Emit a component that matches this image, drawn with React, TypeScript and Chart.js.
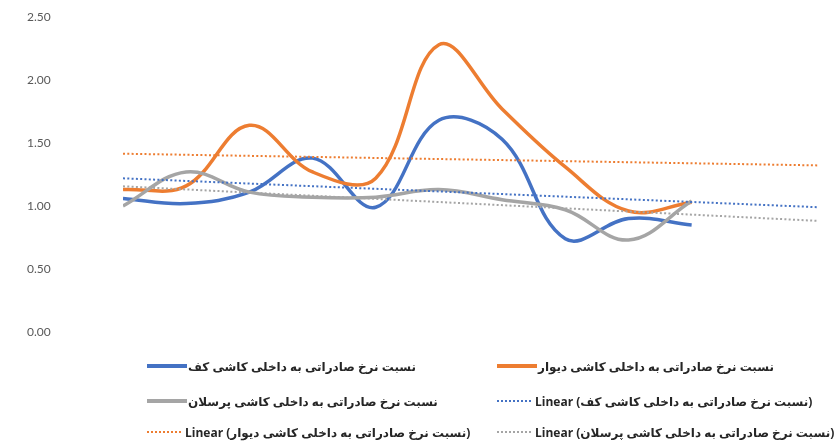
import React, { useEffect, useRef } from "react";
import { Chart, registerables } from "chart.js";

Chart.register(...registerables);

// Export-to-domestic price ratio per period, one array per tile type
const kaf = [1.06, 1.02, 1.11, 1.38, 0.99, 1.68, 1.53, 0.74, 0.9, 0.85];
const divar = [1.13, 1.16, 1.64, 1.27, 1.22, 2.28, 1.77, 1.31, 0.96, 1.03];
const porselan = [1.0, 1.27, 1.11, 1.07, 1.07, 1.13, 1.05, 0.97, 0.73, 1.04];

// Trend lines are projected this many periods past the last value
const forecastPeriods = 2;

// Value axis
const yMin = 0;
const yMax = 2.5;
const yStep = 0.5;

const nameKaf = "نسبت نرخ صادراتی به داخلی کاشی کف";
const nameDivar = "نسبت نرخ صادراتی به داخلی کاشی دیوار";
const namePorselan = "نسبت نرخ صادراتی به داخلی کاشی پرسلان";

const BLUE = "#4472C4";
const ORANGE = "#ED7D31";
const GRAY = "#A5A5A5";

// Least-squares line through the series, extended forward
function linearTrend(values: number[], extra: number) {
  const n = values.length;
  const mx = (n - 1) / 2;
  const my = values.reduce((a, b) => a + b, 0) / n;
  let sxy = 0;
  let sxx = 0;
  values.forEach((v, i) => {
    sxy += (i - mx) * (v - my);
    sxx += (i - mx) * (i - mx);
  });
  const slope = sxy / sxx;
  const intercept = my - slope * mx;
  const last = n - 1 + extra;
  return [
    { x: 0, y: intercept },
    { x: last, y: intercept + slope * last },
  ];
}

const toPoints = (values: number[]) => values.map((y, x) => ({ x, y }));

type LegendItem = { label: string; color: string; dotted: boolean };

const legendRows: LegendItem[][] = [
  [
    { label: nameKaf, color: BLUE, dotted: false },
    { label: nameDivar, color: ORANGE, dotted: false },
  ],
  [
    { label: namePorselan, color: GRAY, dotted: false },
    { label: `Linear (${nameKaf})`, color: BLUE, dotted: true },
  ],
  [
    { label: `Linear (${nameDivar})`, color: ORANGE, dotted: true },
    { label: `Linear (${namePorselan})`, color: GRAY, dotted: true },
  ],
];

const legendColumnsX = [147, 497];
const legendRowsY = [366, 401, 432];

function Swatch({ color, dotted }: { color: string; dotted: boolean }) {
  if (dotted) {
    return (
      <span
        style={{
          display: "inline-block",
          width: 34,
          height: 2,
          marginRight: 4,
          backgroundImage: `repeating-linear-gradient(to right, ${color} 0px, ${color} 2px, transparent 2px, transparent 4px)`,
        }}
      />
    );
  }
  return (
    <span
      style={{
        display: "inline-block",
        width: 40,
        height: 4,
        marginRight: 1,
        background: color,
      }}
    />
  );
}

export default function App() {
  const canvasRef = useRef<HTMLCanvasElement | null>(null);

  useEffect(() => {
    const canvas = canvasRef.current;
    if (!canvas) return;
    const lastX = kaf.length - 1 + forecastPeriods;

    const solid = (label: string, values: number[], color: string, order: number) => ({
      label,
      data: toPoints(values),
      borderColor: color,
      backgroundColor: color,
      borderWidth: 3.5,
      pointRadius: 0,
      tension: 0.38,
      fill: false,
      order,
    });

    const trend = (label: string, values: number[], color: string) => ({
      label: `Linear (${label})`,
      data: linearTrend(values, forecastPeriods),
      borderColor: color,
      backgroundColor: color,
      borderWidth: 2,
      borderDash: [2, 2.3],
      pointRadius: 0,
      tension: 0,
      fill: false,
      order: 0,
    });

    const chart = new Chart(canvas, {
      type: "line",
      data: {
        datasets: [
          solid(nameKaf, kaf, BLUE, 3),
          solid(nameDivar, divar, ORANGE, 2),
          solid(namePorselan, porselan, GRAY, 1),
          trend(nameKaf, kaf, BLUE),
          trend(nameDivar, divar, ORANGE),
          trend(namePorselan, porselan, GRAY),
        ],
      },
      options: {
        animation: false,
        responsive: false,
        events: [],
        layout: { padding: { left: 27, right: 18, top: 17, bottom: 110 } },
        plugins: {
          legend: { display: false },
          tooltip: { enabled: false },
        },
        scales: {
          x: {
            type: "linear",
            min: 0,
            max: lastX,
            display: false,
          },
          y: {
            min: yMin,
            max: yMax,
            grid: { display: false, drawTicks: false },
            border: { display: false },
            afterFit: (scale: any) => {
              scale.width = 96;
            },
            ticks: {
              stepSize: yStep,
              padding: 0,
              crossAlign: "far",
              color: "#595959",
              font: { family: "Lato, 'Open Sans', sans-serif", size: 12 },
              callback: (v: any) => Number(v).toFixed(2),
            },
          },
        },
      },
    });
    return () => chart.destroy();
  }, []);

  return (
    <div
      style={{
        position: "fixed",
        left: 0,
        top: 0,
        width: 836,
        height: 442,
        background: "#ffffff",
        overflow: "hidden",
      }}
    >
      <canvas ref={canvasRef} width={836} height={442} style={{ width: 836, height: 442, display: "block" }} />
      {legendRows.map((row, r) =>
        row.map((item, c) => (
          <div
            key={`${r}-${c}`}
            dir="ltr"
            style={{
              position: "absolute",
              left: legendColumnsX[c],
              top: legendRowsY[r] - 10,
              height: 20,
              display: "flex",
              alignItems: "center",
              whiteSpace: "nowrap",
              fontFamily: "'Open Sans', 'DejaVu Sans', sans-serif",
              fontWeight: 700,
              fontSize: 12,
              color: "#262626",
            }}
          >
            <Swatch color={item.color} dotted={item.dotted} />
            <span>{item.label}</span>
          </div>
        ))
      )}
    </div>
  );
}
